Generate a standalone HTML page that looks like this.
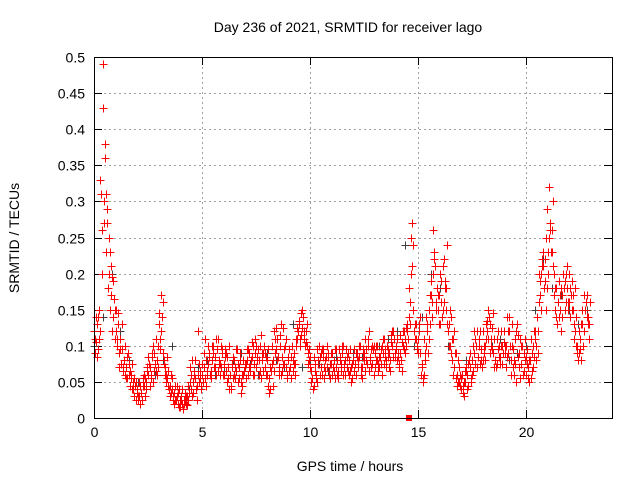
<!DOCTYPE html>
<html><head><meta charset="utf-8"><style>
body{margin:0;background:#fff}
svg{display:block;font-family:"Liberation Sans",sans-serif;font-size:14px}
</style></head><body>
<svg id="chart" width="640" height="480">
<text x="348" y="32" text-anchor="middle">Day 236 of 2021, SRMTID for receiver lago</text>
<text x="350" y="471" text-anchor="middle">GPS time / hours</text>
<text transform="translate(19,238) rotate(-90)" text-anchor="middle">SRMTID / TECUs</text>
<g id="grid"></g>
<g id="ticks"></g>
<g id="greyPts" shape-rendering="crispEdges"></g>
<g id="redPts" shape-rendering="crispEdges"></g>
<rect x="94.5" y="57.5" width="518" height="361" fill="none" stroke="#000" stroke-width="1"/>
</svg>
<script>
const xTicks=[0,5,10,15,20];
const yTicks=[0,0.05,0.1,0.15,0.2,0.25,0.3,0.35,0.4,0.45,0.5];
const yTickLabels=["0","0.05","0.1","0.15","0.2","0.25","0.3","0.35","0.4","0.45","0.5"];
const stepA=0.1, startA=0.0;
const seriesA=[120,105,140,330,490,380,290,250,210,190,
150,130,110,95,80,70,60,55,50,45,
40,30,35,45,50,60,70,85,90,80,
130,170,90,70,55,45,40,35,25,20,
15,20,25,30,35,40,50,55,60,65,
60,70,80,75,65,90,85,95,80,70,
75,65,55,60,70,80,65,55,50,60,
70,80,90,85,75,70,95,100,80,70,
60,55,65,80,90,110,100,85,75,70,
80,70,65,75,110,130,145,140,120,90,
70,55,45,60,75,90,85,80,70,65,
75,80,70,65,85,90,75,70,60,70,
80,75,90,85,70,80,95,100,85,75,
90,80,70,75,90,95,85,80,100,110,
95,85,90,100,110,120,180,250,150,130,
110,90,70,60,100,150,170,260,210,180,
170,190,220,150,120,100,80,70,60,50,
40,35,50,60,70,80,90,100,85,75,
80,100,120,140,110,90,80,95,85,75,
120,100,90,80,70,110,130,90,75,65,
60,70,80,90,85,100,160,200,230,220,
290,320,260,200,180,160,150,170,190,180,
200,170,150,120,100,110,130,170,160,140];
const stepB=0.1, startB=0.05;
const seriesB=[90,130,110,200,270,230,180,150,120,110,
100,90,75,65,60,55,45,40,30,25,
25,20,45,55,65,75,60,50,65,100,
110,140,75,60,45,35,30,25,30,40,
30,25,20,45,70,80,60,45,50,40,
50,55,60,90,100,70,60,65,75,90,
95,85,40,45,55,70,75,80,45,65,
75,60,70,100,90,80,60,55,90,85,
45,40,75,120,95,70,60,125,100,60,
65,85,90,100,120,110,125,110,100,80,
50,40,65,95,85,60,70,85,90,75,
60,55,80,95,65,60,80,90,65,55,
65,90,80,60,85,110,75,65,95,100,
80,65,85,100,75,70,90,105,120,90,
80,75,105,120,125,110,130,270,110,95,
120,60,50,80,120,130,140,230,160,150,
130,150,180,240,130,90,110,90,50,45,
60,50,65,75,55,65,110,120,100,80,
90,110,150,130,95,70,75,100,100,90,
90,140,120,100,60,50,85,110,100,80,
75,50,55,100,110,90,190,210,180,150,
230,260,210,150,130,140,180,200,160,150,
180,150,130,100,90,80,100,150,170,130];
const stepD=0.1, startD=0.025;
const seriesD=[110,85,150,310,430,360,270,230,195,165,
120,145,95,70,100,85,75,60,40,50,
30,45,25,60,40,85,55,100,75,60,
145,120,80,50,65,30,55,20,45,15,
25,12,35,18,50,30,65,40,120,55,
75,110,65,85,55,100,70,110,60,95,
60,90,70,40,85,55,95,70,35,80,
55,95,65,105,60,100,80,115,65,90,
80,35,100,65,125,85,115,65,95,55,
95,55,80,60,125,100,150,120,105,75,
85,40,75,50,100,70,95,65,85,55,
90,65,95,55,75,100,60,85,80,50,
95,60,70,100,55,90,80,120,70,95,
70,100,85,60,110,80,95,65,120,85,
110,70,80,120,90,130,160,210,120,110,
90,140,55,90,130,110,190,200,150,170,
200,140,160,180,100,140,60,90,45,70,
55,30,70,45,90,60,120,70,110,95,
120,80,135,90,125,110,70,120,75,100,
100,85,140,60,95,75,115,55,100,90,
85,55,110,70,120,140,200,150,210,250,
200,270,230,170,140,190,120,200,150,210,
160,190,110,140,80,95,150,120,140,110];
const stepE=0.1, startE=0.075;
const seriesE=[140,95,120,260,300,310,200,170,140,150,
110,70,130,80,55,90,65,75,55,35,
50,35,55,30,70,45,90,65,110,70,
95,160,60,85,40,60,25,45,35,25,
40,20,30,25,60,35,80,25,75,45,
90,45,100,60,80,70,110,75,100,60,
85,50,100,75,60,95,50,90,60,75,
95,70,80,60,110,85,65,90,100,60,
95,70,45,110,80,60,130,75,110,85,
70,100,75,110,135,115,140,100,130,95,
65,85,55,80,60,95,55,100,60,90,
70,95,60,80,100,70,95,65,95,75,
75,85,100,70,95,65,110,80,100,60,
100,75,95,110,85,100,70,115,85,100,
90,115,65,95,100,140,200,240,130,100,
130,75,110,140,90,170,160,220,180,130,
160,210,190,130,150,110,120,55,80,60,
45,65,40,80,50,100,75,85,120,70,
100,130,110,100,145,80,110,85,120,105,
70,120,100,130,80,120,70,100,60,110,
95,80,65,120,80,120,170,220,190,180,
250,230,300,180,160,170,140,180,200,160,
140,170,180,90,120,130,100,160,130,160];
const stepC=0.4, startC=0.02;
const seriesC=[100,140,200,120,80,50,40,60,80,100,
30,40,70,80,60,70,80,90,75,60,
90,80,70,130,70,80,75,65,85,80,
90,85,95,100,110,120,240,100,140,200,
180,100,60,80,90,120,100,110,80,90,
100,150,220,180,170,150,130,150];
const markerHours=[14.6];
const markerValues=[0];

const X0=94,X1=612,Y0=418,Y1=57,XMAX=24,YMAX=0.5;
const sx=h=>X0+h/XMAX*(X1-X0);
const sy=v=>Y0-v/YMAX*(Y0-Y1);
const NS="http://www.w3.org/2000/svg";
function mk(tag,attrs,parent){const e=document.createElementNS(NS,tag);for(const k in attrs)e.setAttribute(k,attrs[k]);parent.appendChild(e);return e;}
const grid=document.getElementById('grid'),ticks=document.getElementById('ticks');
yTicks.forEach((v,i)=>{
  const y=Math.round(sy(v))+0.5;
  if(i>0&&i<yTicks.length-1){const g=mk('line',{x1:X0,x2:X1,y1:y,y2:y,stroke:'#a0a0a0','stroke-dasharray':'2,3'},grid);
  
  }
  mk('line',{x1:X0,x2:X0+8,y1:y,y2:y,stroke:'#000'},ticks);
  mk('line',{x1:X1-8,x2:X1,y1:y,y2:y,stroke:'#000'},ticks);
  const t=mk('text',{x:X0-9,y:y+5,'text-anchor':'end'},ticks);t.textContent=yTickLabels[i];
  
  
});
xTicks.forEach(h=>{
  const x=Math.round(sx(h))+0.5;
  if(h>0){const g=mk('line',{x1:x,x2:x,y1:Y1,y2:Y0,stroke:'#a0a0a0','stroke-dasharray':'2,3'},grid);
  
  }
  mk('line',{x1:x,x2:x,y1:Y0,y2:Y0-8,stroke:'#000'},ticks);
  mk('line',{x1:x,x2:x,y1:Y1,y2:Y1+8,stroke:'#000'},ticks);
  const t=mk('text',{x:x,y:Y0+19,'text-anchor':'middle'},ticks);t.textContent=String(h);
  
  
});
function plus(h,v,color,parent){
  const x=Math.round(sx(h))+0.5,y=Math.round(sy(v))+0.5;
  const p=mk('path',{d:`M${x-4},${y}H${x+4}M${x},${y-4}V${y+4}`,stroke:color,'stroke-width':1,fill:'none'},parent);
  
  
}
const gp=document.getElementById('greyPts'),rp=document.getElementById('redPts');
seriesC.forEach((v,i)=>plus(startC+i*stepC,v/1000,'#404040',gp));
seriesA.forEach((v,i)=>plus(startA+i*stepA,v/1000,'#ff0000',rp));
seriesB.forEach((v,i)=>plus(startB+i*stepB,v/1000,'#ff0000',rp));
seriesD.forEach((v,i)=>plus(startD+i*stepD,v/1000,'#ff0000',rp));
seriesE.forEach((v,i)=>plus(startE+i*stepE,v/1000,'#ff0000',rp));
markerHours.forEach((h,i)=>{
  const r=mk('rect',{x:sx(h)-3,y:sy(markerValues[i])-3,width:6,height:6,fill:'#ff0000'},rp);
  
  
});
</script>
</body></html>
